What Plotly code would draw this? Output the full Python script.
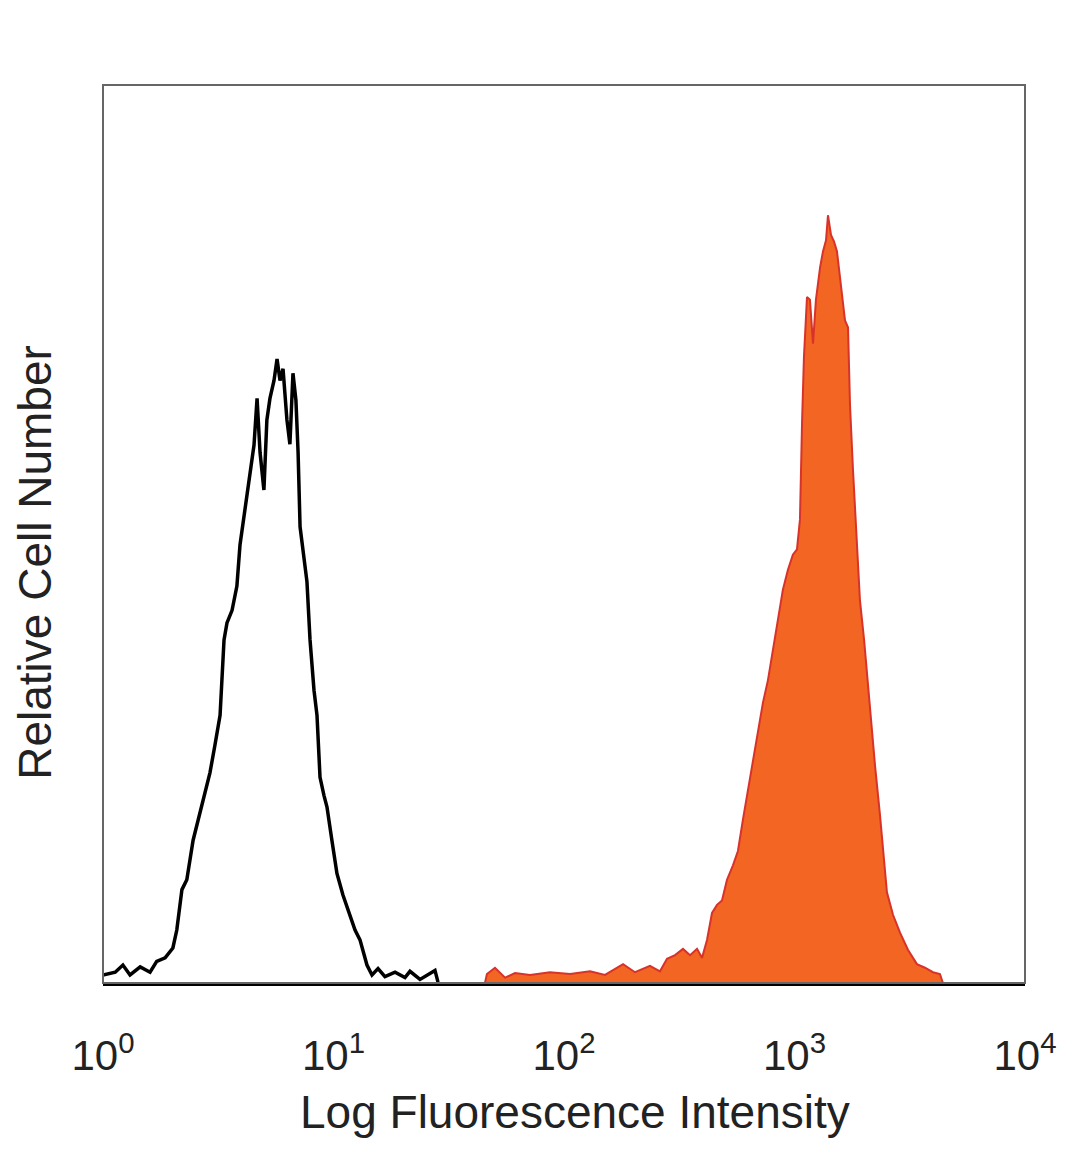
import plotly.graph_objects as go

# isotype control (black outline) - intensity and relative count
ctrl_x = [1.0, 1.13, 1.22, 1.31, 1.45, 1.60, 1.71, 1.86, 2.01, 2.09, 2.20, 2.31, 2.46, 2.64,
          2.77, 2.91, 3.06, 3.22, 3.35, 3.45, 3.63, 3.81, 3.93, 4.13, 4.34, 4.52, 4.66, 4.80,
          4.99, 5.14, 5.30, 5.52, 5.69, 5.86, 6.04, 6.28, 6.47, 6.67, 6.87, 7.02, 7.16, 7.45,
          7.67, 7.91, 8.23, 8.48, 8.74, 9.09, 9.37, 9.84, 10.35, 10.99, 11.79, 12.40, 13.03,
          13.57, 13.97, 14.69, 15.60, 16.72, 18.49, 20.42, 21.47, 23.73, 27.56, 28.40]
ctrl_y = [0.9, 1.2, 2.0, 0.9, 1.8, 1.2, 2.4, 2.8, 3.9, 5.9, 10.4, 11.5, 15.9, 19.2,
          21.5, 23.4, 26.5, 29.8, 38.2, 40.1, 41.5, 44.2, 48.8, 52.7, 56.3, 59.9, 65.1, 59.1,
          54.9, 62.7, 65.1, 67.1, 69.5, 67.1, 68.4, 62.7, 60.0, 67.9, 64.9, 59.1, 50.8, 47.1,
          44.7, 38.2, 32.6, 29.8, 22.9, 20.9, 19.6, 15.9, 12.2, 9.8, 7.6, 5.9, 4.8,
          3.1, 2.0, 0.9, 1.6, 0.7, 1.2, 0.6, 1.3, 0.4, 1.4, 0.1]

# stained sample (orange filled)
stain_x = [1.6, 45.4, 46.3, 50.2, 55.5, 61.3, 71.2, 86.9, 106.2, 129.7, 150.6, 180.4, 203.3,
           236.0, 260.8, 279.8, 303.2, 328.3, 352.3, 377.6, 397.0, 417.3, 438.6, 461.0,
           484.6, 509.4, 540.7, 568.3, 597.4, 627.9, 660.1, 693.9, 729.4, 766.7, 806.0,
           847.2, 890.5, 936.0, 984.0, 1025, 1056, 1079, 1099, 1133, 1167, 1203, 1239,
           1291, 1330, 1370, 1397, 1440, 1483, 1528, 1592, 1656, 1707, 1741, 1794, 1849,
           1923, 2004, 2128, 2234, 2349, 2445, 2518, 2675, 2869, 3106, 3397, 3681, 3988,
           4276, 4406]
stain_y = [0, 0, 1.0, 1.7, 0.6, 1.1, 0.9, 1.2, 1.0, 1.3, 0.9, 2.1, 1.2,
           1.9, 1.3, 2.7, 3.1, 3.8, 3.1, 3.8, 2.8, 4.8, 7.8, 8.7,
           9.2, 11.5, 13.1, 14.7, 18.2, 21.5, 24.4, 28.2, 31.2, 33.7, 37.0,
           40.4, 43.8, 46.0, 47.7, 48.3, 51.6, 62.7, 69.7, 76.4, 76.1, 71.2, 76.1,
           79.7, 81.5, 82.7, 85.5, 83.3, 82.6, 81.5, 77.2, 73.8, 73.0, 64.4, 57.1, 50.4,
           42.6, 38.2, 30.1, 24.3, 18.7, 13.7, 10.1, 7.6, 5.6, 3.7, 2.1, 1.7, 1.2,
           1.0, 0]

tick_vals = [1, 10, 100, 1000, 10000]
tick_text = ['10<sup>0</sup>', '10<sup>1</sup>', '10<sup>2</sup>', '10<sup>3</sup>', '10<sup>4</sup>']

font_name = 'Liberation Sans, Arial, sans-serif'

fig = go.Figure()
fig.add_trace(go.Scatter(
    x=stain_x, y=stain_y, mode='lines', fill='tozeroy',
    fillcolor='#f26522', line=dict(color='#d8332a', width=2)
))
fig.add_trace(go.Scatter(
    x=ctrl_x, y=ctrl_y, mode='lines',
    line=dict(color='black', width=3.5)
))

fig.update_layout(
    width=1072, height=1161,
    margin=dict(l=95, r=55, t=77, b=186),
    paper_bgcolor='white', plot_bgcolor='white',
    showlegend=False,
    font=dict(family=font_name, color='#222', size=36),
    shapes=[dict(type='rect', xref='paper', yref='paper', x0=0, x1=1, y0=0, y1=1,
                 line=dict(color='#666', width=2), layer='above')],
    annotations=[
        dict(text='Log Fluorescence Intensity', xref='paper', yref='paper',
             x=0.512, y=-0.1437, showarrow=False, xanchor='center', yanchor='middle',
             font=dict(size=46, family=font_name, color='#222')),
        dict(text='Relative Cell Number', xref='paper', yref='paper', textangle=-90,
             x=-0.0738, y=0.469, showarrow=False, xanchor='center', yanchor='middle',
             font=dict(size=46, family=font_name, color='#222')),
    ],
    xaxis=dict(
        type='log', range=[0, 4], tickvals=tick_vals, ticktext=tick_text,
        showgrid=False, zeroline=False, showline=True, linecolor='black', linewidth=3,
        ticks='outside', ticklen=34, tickcolor='rgba(0,0,0,0)',
        tickfont=dict(size=42, family=font_name, color='#222')
    ),
    yaxis=dict(
        range=[0, 100], showticklabels=False, showgrid=False, zeroline=False,
        showline=False, ticks=''
    )
)

fig.write_html("out.html")
